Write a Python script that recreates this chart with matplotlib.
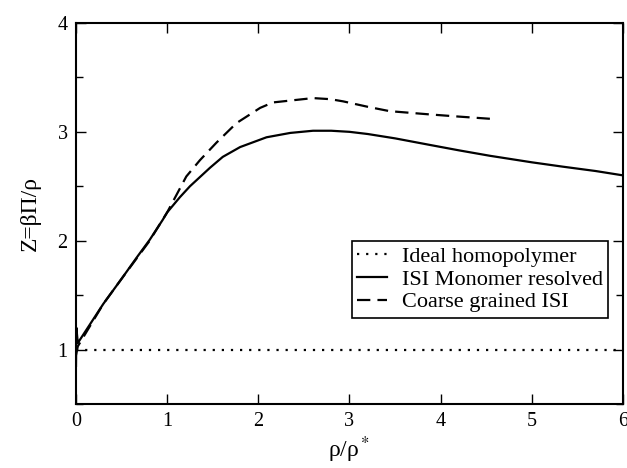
import matplotlib
matplotlib.use("Agg")
from matplotlib import pyplot as plt
from matplotlib.ticker import MultipleLocator

# ideal homopolymer reference
ideal_x = [0.0, 6.0]
ideal_z = [1.0, 1.0]

# ISI monomer resolved
mono_x = [0.0, 0.004, 0.02, 0.3, 0.5, 0.67, 0.81, 0.95, 1.0, 1.14, 1.25, 1.47,
          1.61, 1.8, 2.09, 2.35, 2.6, 2.8, 3.0, 3.2, 3.5, 3.88, 4.2, 4.54, 5.0,
          5.34, 5.7, 6.0]
mono_z = [0.85, 1.2, 1.06, 1.42, 1.65, 1.85, 2.01, 2.19, 2.26, 2.4, 2.5, 2.67,
          2.77, 2.86, 2.95, 2.99, 3.01, 3.01, 3.0, 2.98, 2.94, 2.88, 2.83, 2.78,
          2.72, 2.68, 2.64, 2.6]

# coarse grained ISI
cg_x = [0.0, 0.02, 0.3, 0.5, 0.8, 1.0, 1.21, 1.36, 1.54, 1.76, 2.02, 2.16,
        2.6, 2.79, 2.93, 3.2, 3.44, 3.88, 4.2, 4.54]
cg_z = [0.95, 1.03, 1.42, 1.65, 1.99, 2.26, 2.59, 2.74, 2.9, 3.08, 3.22, 3.27,
        3.31, 3.3, 3.28, 3.23, 3.19, 3.16, 3.14, 3.12]

plt.rcParams['font.family'] = ['Liberation Serif', 'DejaVu Serif']
plt.rcParams['mathtext.fontset'] = 'stix'

fig = plt.figure(figsize=(6.27, 4.68), dpi=100)
ax = fig.add_axes([0.1212, 0.1368, 0.8724, 0.8141])

ax.plot(ideal_x, ideal_z, color='black', lw=1.6, linestyle=(0, (1, 3.1)),
        label='Ideal homopolymer')
ax.plot(mono_x, mono_z, color='black', lw=1.6, label='ISI Monomer resolved')
ax.plot(cg_x, cg_z, color='black', lw=1.6, linestyle=(0, (6, 3.2)),
        label='Coarse grained ISI')

ax.set_xlim(0, 6)
ax.set_ylim(0.5, 4)
ax.xaxis.set_major_locator(MultipleLocator(1))
ax.yaxis.set_major_locator(MultipleLocator(1))
ax.yaxis.set_minor_locator(MultipleLocator(0.5))
ax.tick_params(which='both', direction='in', top=True, right=True,
               labelsize=14.5, width=1.0)
ax.tick_params(which='major', length=7, pad=6)
ax.tick_params(which='minor', length=5)
for s in ax.spines.values():
    s.set_linewidth(1.5)

ax.set_xlabel('ρ/ρ$^*$', fontsize=17, labelpad=2)
ax.set_ylabel('Z=βΠ/ρ', fontsize=17, labelpad=12)

leg = ax.legend(loc='lower right', bbox_to_anchor=(0.973, 0.226), borderaxespad=0,
                fontsize=16, handlelength=1.35, handletextpad=0.65, labelspacing=0.1,
                fancybox=False, framealpha=1, edgecolor='black', borderpad=0.25)
leg.get_frame().set_linewidth(1.2)

fig.savefig('out.png', dpi=100)
